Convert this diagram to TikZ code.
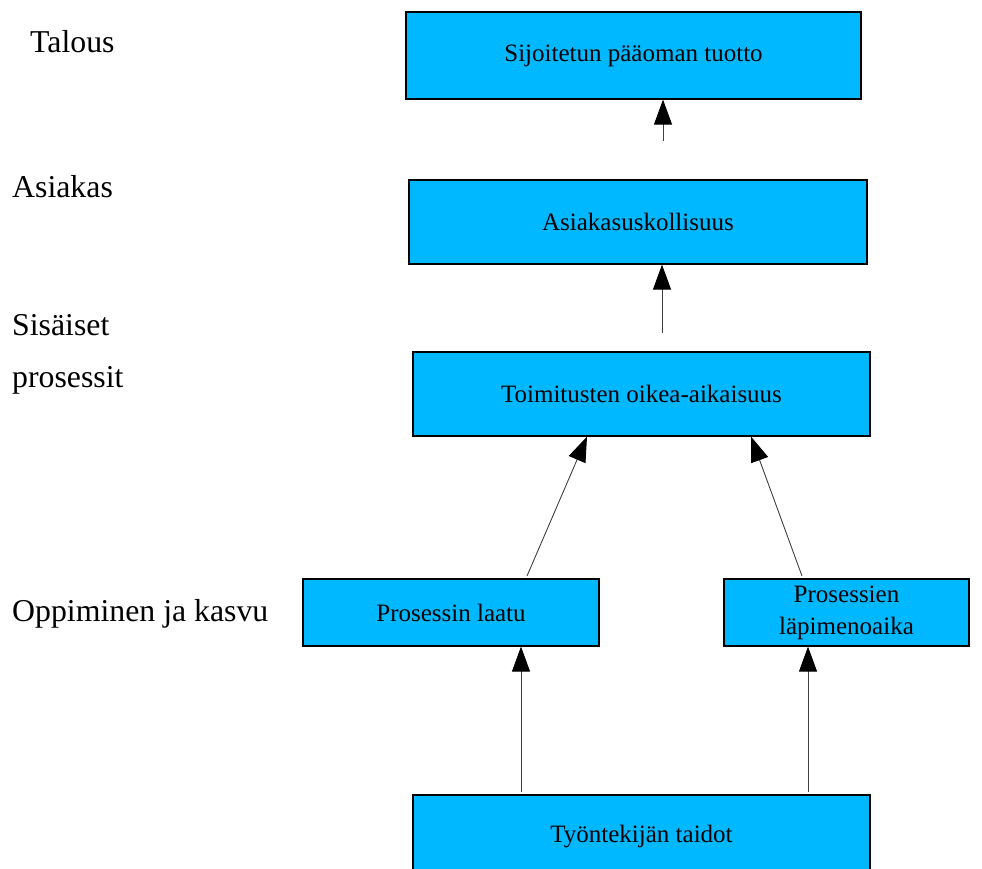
\documentclass[tikz,border=0pt]{standalone}
\usepackage{fontspec}
\setmainfont{Liberation Serif}
\usetikzlibrary{arrows.meta}
\definecolor{boxblue}{RGB}{0,184,255}

\tikzset{
  goal/.style={draw=black, line width=1.2pt, fill=boxblue, align=center,
    inner sep=0pt, font=\fontsize{25}{32}\selectfont},
  link/.style={-{Triangle[length=25pt,width=18pt,color=black]}, line width=0.9pt, draw=black!75},
  level/.style={anchor=west, align=left, inner sep=0pt,
    font=\fontsize{31.8}{52}\selectfont},
}

\begin{document}
\begin{tikzpicture}[x=1pt,y=-1pt]
  \useasboundingbox (0,0) rectangle (982,869);
  \clip (0,0) rectangle (982,869);

  % Perspectives
  \node[level] (talous) at (30,42) {Talous};
  \node[level] (asiakas) at (12,187) {Asiakas};
  \node[level] (sisaiset) at (12,354) {Sisäiset\\prosessit};
  \node[level] (oppiminen) at (12,614) {Oppiminen ja kasvu};

  % Goals
  \node[goal, minimum width=455pt, minimum height=87pt] (roi) at (633.5,55.5) {Sijoitetun pääoman tuotto};
  \node[goal, minimum width=458pt, minimum height=84pt] (loyal) at (638,222) {Asiakasuskollisuus};
  \node[goal, minimum width=457pt, minimum height=84pt] (ontime) at (641.5,394) {Toimitusten oikea-aikaisuus};
  \node[goal, minimum width=296pt, minimum height=67pt] (laatu) at (451,612.5) {Prosessin laatu};
  \node[goal, minimum width=245pt, minimum height=67pt] (lapi) at (846.5,612.5) {Prosessien\\läpimenoaika};
  \node[goal, minimum width=457pt, minimum height=84pt] (taidot) at (641.5,837) {Työntekijän taidot};

  % Cause and effect
  \coordinate (s1) at (663,141);
  \coordinate (s2) at (662,333);
  \coordinate (s3) at (527,576);
  \coordinate (s4) at (802,576);
  \coordinate (s5) at (521,792);
  \coordinate (s6) at (808,792);

  \draw[link] (s1) -- (s1 |- roi.south);
  \draw[link] (s2) -- (s2 |- loyal.south);
  \draw[link] (s3) -- ([xshift=-54.5pt]ontime.south);
  \draw[link] (s4) -- ([xshift=109.5pt]ontime.south);
  \draw[link] (s5) -- (s5 |- laatu.south);
  \draw[link] (s6) -- (s6 |- lapi.south);
\end{tikzpicture}
\end{document}
